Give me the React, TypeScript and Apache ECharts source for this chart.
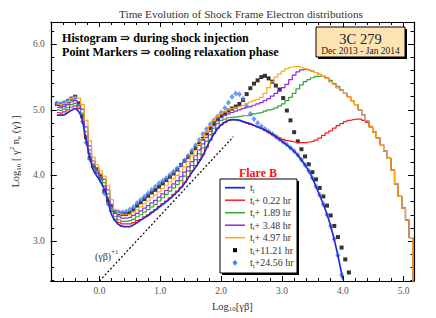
import React, { useEffect, useRef } from "react";
import * as echarts from "echarts";

const X_MIN = -0.8;
const X_MAX = 5.17;
const Y_MIN = 2.39;
const Y_MAX = 6.34;

const titleText = "Time Evolution of Shock Frame Electron distributions";
const noteLines = ["Histogram \u21D2 during shock injection", "Point Markers \u21D2 cooling relaxation phase"];
const sourceLines = ["3C 279", "Dec 2013 - Jan 2014"];
const flareLabel = "Flare B";
const seriesNames = ["t_i", "t_i+ 0.22 hr", "t_i+ 1.89 hr", "t_i+ 3.48 hr", "t_i+ 4.97 hr", "t_i+11.21 hr", "t_i+24.56 hr"];
const seriesColors = ["#1f2fd6", "#ff1a1a", "#2ea836", "#8a2be2", "#ffaa10", "#000000", "#4b7ff0"];

const xMajor = [0, 1, 2, 3, 4, 5];
const xMinor = [-0.8, -0.6, -0.4, -0.2, 0, 0.2, 0.4, 0.6, 0.8, 1, 1.2, 1.4, 1.6, 1.8, 2, 2.2, 2.4, 2.6, 2.8, 3, 3.2, 3.4, 3.6, 3.8, 4, 4.2, 4.4, 4.6, 4.8, 5];
const yMajor = [3, 4, 5, 6];
const yMinor = [2.4, 2.6, 2.8, 3, 3.2, 3.4, 3.6, 3.8, 4, 4.2, 4.4, 4.6, 4.8, 5, 5.2, 5.4, 5.6, 5.8, 6, 6.2];

// Lorentz-factor grid (log10 gamma*beta) shared by histogram bins and point markers
const gridX = [-0.70, -0.64, -0.58, -0.52, -0.46, -0.40, -0.34, -0.28, -0.22, -0.16,
  -0.10, -0.04, 0.02, 0.08, 0.14, 0.20, 0.26, 0.32, 0.38, 0.44,
  0.50, 0.56, 0.62, 0.68, 0.74, 0.80, 0.86, 0.92, 0.98, 1.04,
  1.10, 1.16, 1.22, 1.28, 1.34, 1.40, 1.46, 1.52, 1.58, 1.64,
  1.70, 1.76, 1.82, 1.88, 1.94, 2.00, 2.06, 2.12, 2.18, 2.24,
  2.30, 2.36, 2.42, 2.48, 2.54, 2.60, 2.66, 2.72, 2.78, 2.84,
  2.90, 2.96, 3.02, 3.08, 3.14, 3.20, 3.26, 3.32, 3.38, 3.44,
  3.50, 3.56, 3.62, 3.68, 3.74, 3.80, 3.86, 3.92, 3.98, 4.04,
  4.10, 4.16, 4.22, 4.28, 4.34, 4.40, 4.46, 4.52, 4.58, 4.64,
  4.70, 4.76, 4.82, 4.88, 4.94, 5.00, 5.06, 5.12, 5.18];

// t_i smooth curve
const blueX = [-0.7, -0.6, -0.5, -0.4, -0.3, -0.2, -0.1, 0.0, 0.1, 0.2, 0.3, 0.4, 0.5, 0.6, 0.7, 0.8, 0.9, 1.0, 1.1, 1.2, 1.3, 1.4, 1.5, 1.6, 1.7, 1.8, 1.9, 2.0, 2.1, 2.2, 2.3, 2.4, 2.5, 2.6, 2.7, 2.8, 2.9, 3.0, 3.1, 3.2, 3.3, 3.4, 3.5, 3.6, 3.7, 3.8, 3.9, 4.0];
const blueVals = [4.92, 4.92, 4.97, 5.02, 4.90, 4.45, 4.08, 3.93, 3.75, 3.40,
  3.26, 3.22, 3.22, 3.27, 3.33, 3.39, 3.46, 3.53, 3.60, 3.68,
  3.77, 3.88, 4.02, 4.15, 4.30, 4.50, 4.66, 4.77, 4.83, 4.85,
  4.84, 4.81, 4.78, 4.74, 4.70, 4.65, 4.59, 4.52, 4.45, 4.37,
  4.26, 4.13, 3.96, 3.74, 3.51, 3.23, 2.86, 2.41];

// shared high-energy tail of all histograms (x >= 3.74)
const tailVals = [5.48, 5.43, 5.39, 5.34, 5.30, 5.25, 5.20, 5.14, 5.08, 5.00,
  4.92, 4.83, 4.74, 4.66, 4.57, 4.47, 4.37, 4.26, 4.08, 3.87,
  3.68, 3.50, 3.32, 3.05, 2.30];

const redHead = [4.96, 4.95, 4.97, 5.00, 5.04, 5.06, 5.02, 4.88, 4.60, 4.33,
  4.12, 4.03, 3.94, 3.84, 3.66, 3.45, 3.33, 3.28, 3.26, 3.26,
  3.26, 3.28, 3.31, 3.33, 3.37, 3.40, 3.44, 3.48, 3.53, 3.57,
  3.61, 3.66, 3.71, 3.76, 3.82, 3.90, 3.98, 4.07, 4.15, 4.24,
  4.32, 4.43, 4.54, 4.64, 4.72, 4.77, 4.81, 4.84, 4.85, 4.85,
  4.84, 4.82, 4.80, 4.78, 4.76, 4.74, 4.72, 4.69, 4.66, 4.63,
  4.60, 4.57, 4.55, 4.53, 4.52, 4.51, 4.50, 4.50, 4.50, 4.51,
  4.52, 4.54, 4.57, 4.61, 4.65, 4.68, 4.72, 4.76, 4.79, 4.82,
  4.84, 4.85, 4.86, 4.86, 4.84, 4.81, 4.75];

const greenHead = [5.00, 4.99, 5.01, 5.04, 5.08, 5.10, 5.07, 4.95, 4.67, 4.39,
  4.17, 4.07, 3.98, 3.89, 3.72, 3.50, 3.37, 3.32, 3.30, 3.30,
  3.31, 3.33, 3.37, 3.40, 3.44, 3.48, 3.52, 3.56, 3.61, 3.66,
  3.71, 3.76, 3.81, 3.86, 3.92, 3.99, 4.07, 4.15, 4.24, 4.33,
  4.42, 4.52, 4.62, 4.72, 4.79, 4.84, 4.86, 4.88, 4.89, 4.89,
  4.90, 4.91, 4.91, 4.92, 4.94, 4.95, 4.96, 4.98, 5.00, 5.01,
  5.03, 5.06, 5.09, 5.14, 5.19, 5.25, 5.32, 5.38, 5.43, 5.46,
  5.49, 5.51, 5.51, 5.51, 5.49, 5.45, 5.40, 5.36];

const purpleHead = [5.04, 5.03, 5.05, 5.08, 5.12, 5.14, 5.12, 5.01, 4.74, 4.45,
  4.22, 4.11, 4.02, 3.94, 3.78, 3.56, 3.42, 3.37, 3.35, 3.35,
  3.36, 3.39, 3.42, 3.46, 3.50, 3.54, 3.58, 3.62, 3.67, 3.72,
  3.77, 3.82, 3.87, 3.92, 3.98, 4.05, 4.13, 4.21, 4.30, 4.39,
  4.48, 4.58, 4.67, 4.76, 4.83, 4.88, 4.91, 4.94, 4.96, 4.98,
  5.00, 5.02, 5.04, 5.05, 5.07, 5.09, 5.11, 5.14, 5.17, 5.21,
  5.25, 5.29, 5.34, 5.39, 5.46, 5.53, 5.58, 5.61, 5.62, 5.61,
  5.59, 5.57, 5.54, 5.51];

const orangeHead = [5.09, 5.08, 5.10, 5.13, 5.17, 5.19, 5.18, 5.08, 4.84, 4.53,
  4.28, 4.16, 4.07, 3.99, 3.85, 3.63, 3.48, 3.42, 3.40, 3.40,
  3.41, 3.44, 3.48, 3.52, 3.57, 3.61, 3.66, 3.70, 3.75, 3.80,
  3.85, 3.90, 3.95, 4.00, 4.06, 4.13, 4.21, 4.29, 4.38, 4.47,
  4.56, 4.66, 4.75, 4.84, 4.90, 4.94, 4.97, 5.00, 5.02, 5.04,
  5.05, 5.07, 5.10, 5.12, 5.14, 5.16, 5.19, 5.25, 5.34, 5.43,
  5.50, 5.55, 5.59, 5.63, 5.65, 5.66, 5.66, 5.65, 5.63, 5.61,
  5.59, 5.57, 5.54, 5.51];

const blackVals = [5.09, 5.08, 5.10, 5.13, 5.17, 5.20, 5.10, 4.90, 4.58, 4.27, 4.15, 4.09,
  3.98, 3.76, 3.62, 3.53, 3.45, 3.42, 3.41, 3.41, 3.43, 3.48, 3.54, 3.59, 3.64, 3.69, 3.74, 3.78, 3.83,
  3.88, 3.93, 3.98, 4.03, 4.09, 4.16, 4.22, 4.28, 4.35, 4.42, 4.48, 4.56, 4.64, 4.72, 4.80, 4.86,
  4.91, 4.95, 4.99, 5.02, 5.05, 5.09, 5.15, 5.24, 5.33, 5.40, 5.45, 5.50, 5.52, 5.48, 5.43, 5.37, 5.31,
  5.18, 4.99, 4.84, 4.66, 4.52, 4.40, 4.29, 4.17, 4.05, 3.94, 3.81, 3.68, 3.54, 3.39, 3.23, 3.06, 2.90,
  2.72, 2.52];

const diamondVals = [5.10, 5.09, 5.11, 5.14, 5.17, 5.18, 5.06, 4.82, 4.50, 4.25, 4.13, 4.06,
  3.94, 3.73, 3.57, 3.49, 3.45, 3.44, 3.44, 3.45, 3.48, 3.52, 3.58, 3.63, 3.68, 3.73, 3.78, 3.83, 3.88,
  3.92, 3.96, 4.01, 4.06, 4.11, 4.16, 4.23, 4.30, 4.38, 4.46, 4.54, 4.63, 4.71, 4.78, 4.84, 4.90,
  4.96, 5.03, 5.11, 5.20, 5.25, 5.24, 5.17, 5.06, 4.94, 4.86, 4.80, 4.75, 4.71, 4.67, 4.63, 4.59, 4.55,
  4.51, 4.47, 4.42, 4.37, 4.31, 4.24, 4.16, 4.07, 3.96, 3.83, 3.70, 3.56, 3.40, 3.23, 3.03, 2.78, 2.48];

// (gamma beta)^+1 reference slope
const slopeX = [0.0, 2.2];
const slopeY = [2.39, 4.59];
const slopeLabel = "(\u03B3\u03B2)";
const slopeExp = "+1";

const FONT = "'Liberation Serif', 'DejaVu Serif', serif";

function pairs(xs: number[], ys: number[]) {
  return ys.map((y, i) => [xs[i], y]);
}

function withTail(head: number[]) {
  // head covers gridX[0 .. head.length-1]; tail starts at gridX index 74
  return head.concat(tailVals.slice(head.length - 74));
}

function richName(name: string) {
  return "{t|t}{s|i}{t|" + name.slice(3) + "}";
}

export default function App() {
  const ref = useRef<HTMLDivElement | null>(null);

  useEffect(() => {
    document.body.style.margin = "0";
    if (!ref.current) return;
    const chart = echarts.init(ref.current, undefined, { renderer: "svg" });

    const gridL = 49, gridT = 22, gridR = 22, gridB = 37;

    const axisLineStyle = { color: "#000", width: 1.2 };
    const tickStyle = { color: "#000", width: 1 };
    const labelStyle = { fontFamily: FONT, fontSize: 9.5, color: "#555" };

    const baseX: any = { type: "value", min: X_MIN, max: X_MAX, splitLine: { show: false } };
    const baseY: any = { type: "value", min: Y_MIN, max: Y_MAX, splitLine: { show: false } };

    const xAxis = [
      {
        ...baseX, position: "bottom",
        axisLine: { show: true, onZero: false, lineStyle: axisLineStyle },
        axisTick: { show: true, inside: true, length: 5, customValues: xMajor, lineStyle: tickStyle },
        axisLabel: { show: true, customValues: xMajor, margin: 5, formatter: (v: number) => v.toFixed(1), ...labelStyle },
        name: "{a|Log}{s|10}{a|[\u03B3\u03B2]}",
        nameLocation: "middle",
        nameGap: 15,
        nameTextStyle: {
          fontFamily: FONT, color: "#333",
          rich: {
            a: { fontFamily: FONT, fontSize: 10.5, color: "#333", lineHeight: 13 },
            s: { fontFamily: FONT, fontSize: 7, color: "#333", verticalAlign: "bottom", lineHeight: 8 },
          },
        },
      },
      {
        ...baseX, position: "bottom",
        axisLine: { show: false, onZero: false },
        axisTick: { show: true, inside: true, length: 3, customValues: xMinor, lineStyle: tickStyle },
        axisLabel: { show: false },
      },
      {
        ...baseX, position: "top",
        axisLine: { show: true, onZero: false, lineStyle: axisLineStyle },
        axisTick: { show: true, inside: true, length: 5, customValues: xMajor, lineStyle: tickStyle },
        axisLabel: { show: false },
      },
      {
        ...baseX, position: "top",
        axisLine: { show: false, onZero: false },
        axisTick: { show: true, inside: true, length: 3, customValues: xMinor, lineStyle: tickStyle },
        axisLabel: { show: false },
      },
    ];

    const yAxis = [
      {
        ...baseY, position: "left",
        axisLine: { show: true, onZero: false, lineStyle: axisLineStyle },
        axisTick: { show: true, inside: true, length: 6, customValues: yMajor, lineStyle: tickStyle },
        axisLabel: { show: true, customValues: yMajor, margin: 6, formatter: (v: number) => v.toFixed(1), ...labelStyle },
        name: "{a|Log}{s|10}{a| [ \u03B3}{p|2}{a| n}{s|e}{a| (\u03B3) ]}",
        nameLocation: "middle",
        nameRotate: 90,
        nameGap: 25,
        nameTextStyle: {
          fontFamily: FONT, color: "#333",
          rich: {
            a: { fontFamily: FONT, fontSize: 10.5, color: "#333", lineHeight: 14 },
            s: { fontFamily: FONT, fontSize: 7, color: "#333", verticalAlign: "bottom", lineHeight: 8 },
            p: { fontFamily: FONT, fontSize: 7, color: "#333", verticalAlign: "top", lineHeight: 8 },
          },
        },
      },
      {
        ...baseY, position: "left",
        axisLine: { show: false, onZero: false },
        axisTick: { show: true, inside: true, length: 3.5, customValues: yMinor, lineStyle: tickStyle },
        axisLabel: { show: false },
      },
      {
        ...baseY, position: "right",
        axisLine: { show: true, onZero: false, lineStyle: axisLineStyle },
        axisTick: { show: true, inside: true, length: 6, customValues: yMajor, lineStyle: tickStyle },
        axisLabel: { show: false },
      },
      {
        ...baseY, position: "right",
        axisLine: { show: false, onZero: false },
        axisTick: { show: true, inside: true, length: 3.5, customValues: yMinor, lineStyle: tickStyle },
        axisLabel: { show: false },
      },
    ];

    const histSeries = (idx: number, vals: number[]) => ({
      name: seriesNames[idx],
      type: "line",
      step: "middle",
      data: pairs(gridX, vals),
      symbol: "none",
      showSymbol: false,
      silent: true,
      lineStyle: { color: seriesColors[idx], width: 1.2 },
    });

    // boxed key
    const lgX = 220, lgY = 179, lgW = 77, lgH = 94;
    const row0 = 187.7, rowDY = 12.5;
    const legendEls: any[] = [
      { type: "rect", shape: { x: lgX + 2, y: lgY + 2, width: lgW, height: lgH }, style: { fill: "#000" }, z: 100 },
      { type: "rect", shape: { x: lgX, y: lgY, width: lgW, height: lgH }, style: { fill: "#fff", stroke: "#000", lineWidth: 1 }, z: 101 },
    ];
    seriesNames.forEach((nm, i) => {
      const y = row0 + i * rowDY;
      if (i <= 4) {
        legendEls.push({ type: "line", shape: { x1: 225, y1: y, x2: 245, y2: y }, style: { stroke: seriesColors[i], lineWidth: i === 0 ? 1.8 : 1.5 }, z: 102 });
      } else if (i === 5) {
        legendEls.push({ type: "rect", shape: { x: 233, y: y - 2, width: 4, height: 4 }, style: { fill: seriesColors[i] }, z: 102 });
      } else {
        legendEls.push({ type: "polygon", shape: { points: [[235, y - 3], [237.5, y], [235, y + 3], [232.5, y]] }, style: { fill: seriesColors[i] }, z: 102 });
      }
      legendEls.push({
        type: "text", x: 250, y: y, z: 102,
        style: {
          text: richName(nm), verticalAlign: "middle", align: "left",
          rich: {
            t: { fontFamily: FONT, fontSize: 10, fill: "#333", lineHeight: 12 },
            s: { fontFamily: FONT, fontSize: 6.5, fill: "#333", verticalAlign: "bottom", lineHeight: 7 },
          },
        },
      });
    });

    const option: any = {
      animation: false,
      backgroundColor: "#fff",
      title: {
        text: titleText, left: 236, top: 3, textAlign: "center",
        textStyle: { fontFamily: FONT, fontSize: 11.2, fontWeight: "normal", color: "#333" },
      },
      grid: { left: gridL, top: gridT, right: gridR, bottom: gridB, containLabel: false },
      xAxis, yAxis,
      series: [
        histSeries(1, withTail(redHead)),
        histSeries(2, withTail(greenHead)),
        histSeries(3, withTail(purpleHead)),
        histSeries(4, withTail(orangeHead)),
        {
          name: seriesNames[5], type: "scatter", symbol: "rect", symbolSize: 4, silent: true,
          data: pairs(gridX, blackVals), itemStyle: { color: seriesColors[5] },
        },
        {
          name: seriesNames[6], type: "scatter", symbol: "diamond", symbolSize: [5, 6], silent: true,
          data: pairs(gridX, diamondVals), itemStyle: { color: seriesColors[6] },
        },
        {
          name: seriesNames[0], type: "line", smooth: 0.3, symbol: "none", showSymbol: false, silent: true,
          data: pairs(blueX, blueVals), lineStyle: { color: seriesColors[0], width: 1.7 },
        },
        {
          name: "slope", type: "line", symbol: "none", showSymbol: false, silent: true,
          data: pairs(slopeX, slopeY), lineStyle: { color: "#000", width: 1.2, type: [2, 2] },
        },
      ],
      graphic: [
        {
          type: "text", x: 62, y: 38, z: 50,
          style: { text: noteLines[0], fontFamily: FONT, fontSize: 12.1, fontWeight: "bold", fill: "#000", verticalAlign: "middle" },
        },
        {
          type: "text", x: 62, y: 52, z: 50,
          style: { text: noteLines[1], fontFamily: FONT, fontSize: 12.1, fontWeight: "bold", fill: "#000", verticalAlign: "middle" },
        },
        { type: "rect", shape: { x: 318, y: 29, width: 89, height: 30 }, style: { fill: "#000" }, z: 50 },
        { type: "rect", shape: { x: 316, y: 27, width: 89, height: 30 }, style: { fill: "#fee3b3", stroke: "#000", lineWidth: 1 }, z: 51 },
        {
          type: "text", x: 360.5, y: 38.5, z: 52,
          style: { text: sourceLines[0], fontFamily: FONT, fontSize: 14.5, fill: "#222", align: "center", verticalAlign: "middle" },
        },
        {
          type: "text", x: 360.5, y: 51, z: 52,
          style: { text: sourceLines[1], fontFamily: FONT, fontSize: 9.5, fill: "#222", align: "center", verticalAlign: "middle" },
        },
        {
          type: "text", x: 258, y: 172.5, z: 52,
          style: { text: flareLabel, fontFamily: FONT, fontSize: 12, fontWeight: "bold", fill: "#ff1010", align: "center", verticalAlign: "middle" },
        },
        {
          type: "text", x: 95, y: 256, z: 52,
          style: {
            text: "{a|" + slopeLabel + "}{p|" + slopeExp + "}", verticalAlign: "middle",
            rich: {
              a: { fontFamily: FONT, fontSize: 10, fill: "#333", lineHeight: 15 },
              p: { fontFamily: FONT, fontSize: 7, fill: "#333", verticalAlign: "top", lineHeight: 8 },
            },
          },
        },
        ...legendEls,
      ],
    };

    chart.setOption(option);
    return () => chart.dispose();
  }, []);

  return <div ref={ref} style={{ width: 436, height: 318 }} />;
}
